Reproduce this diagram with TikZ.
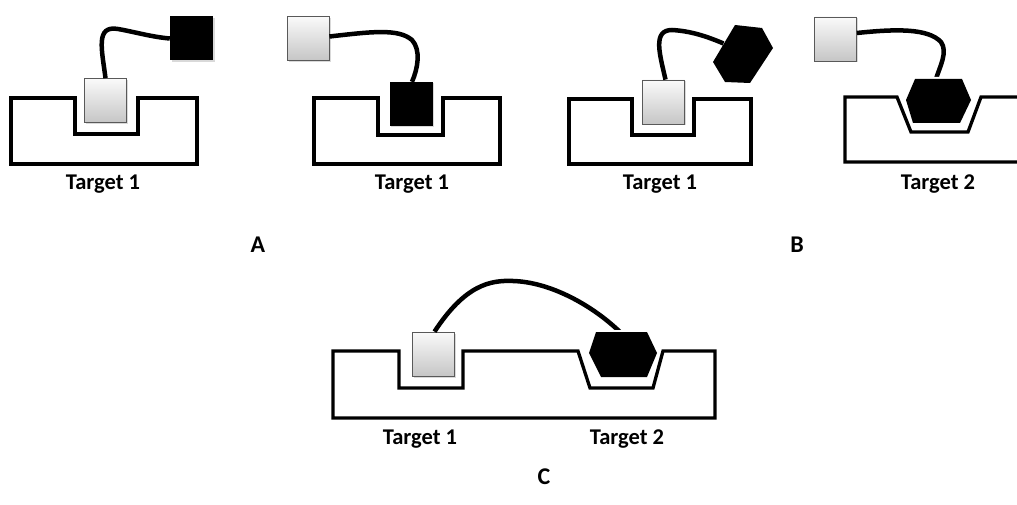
\documentclass[tikz,border=0pt]{standalone}
\usepackage{fontspec}
\setmainfont{Carlito}
\usetikzlibrary{shadows,calc}
\begin{document}
\begin{tikzpicture}[x=1pt,y=-1pt,
  target/.style={draw=black,line width=3.3pt,line join=miter},
  graybox/.style={draw=black!65,line width=0.8pt,top color=gray!4,bottom color=gray!45,
    minimum width=42pt,minimum height=44pt,inner sep=0pt,
    drop shadow={shadow xshift=1.5pt,shadow yshift=-1.5pt,opacity=0.3}},
  blackbox/.style={fill=black,minimum width=43pt,minimum height=44pt,inner sep=0pt,
    drop shadow={shadow xshift=1.5pt,shadow yshift=-1.5pt,opacity=0.3}},
  cable/.style={draw=black,line width=4.5pt,line cap=butt},
  halo/.style={draw=white,line width=4pt,line join=round},
  lbl/.style={font=\fontsize{22.5}{26}\selectfont\bfseries,inner sep=0pt},
  letter/.style={font=\fontsize{24}{28}\selectfont\bfseries,inner sep=0pt}]
\useasboundingbox (0,0) rectangle (1017,505);

% ---------- Panel A, left ----------
\draw[target] (11,98) -- (75,98) -- (75,134) -- (138,134) -- (138,98) -- (197,98) -- (197,164) -- (11,164) -- cycle;
\node[graybox] (g1) at (105.5,100.5) {};
\node[blackbox] (k1) at (191.5,38.5) {};
\draw[cable] (g1.north) .. controls (102,50) and (95,25) .. (118,29) .. controls (135,32) and (152,37) .. (k1.west);
\node[lbl] (t1) at (103,184) {Target 1};

% ---------- Panel A, right ----------
\draw[target] (314,98) -- (378,98) -- (378,135) -- (443,135) -- (443,98) -- (500,98) -- (500,164) -- (314,164) -- cycle;
\node[graybox] (g2) at (308,38.5) {};
\node[blackbox] (k2) at (411,104) {};
\draw[cable] ($(g2.east)+(0,-2)$) .. controls (370,32) and (398,28) .. (412,40) .. controls (421,50) and (418,68) .. ($(k2.north)+(1,0)$);
\node[lbl] (t2) at (412,184) {Target 1};

% ---------- Panel B, left ----------
\draw[target] (569,99) -- (632,99) -- (632,135) -- (694,135) -- (694,99) -- (751,99) -- (751,164) -- (569,164) -- cycle;
\node[graybox] (g3) at (663.5,102) {};
\coordinate (h3a) at (735,25);
\coordinate (h3b) at (762,28);
\coordinate (h3c) at (773,48);
\coordinate (h3d) at (750,83);
\coordinate (h3e) at (725,82);
\coordinate (h3f) at (713,62);
\coordinate (h3in) at (723.5,43.5);
\draw[cable] ($(g3.north)+(2,0)$) .. controls (660,55) and (652,30) .. (672,30) .. controls (690,31) and (706,36) .. (h3in);
\fill[black] (h3a) -- (h3b) -- (h3c) -- (h3d) -- (h3e) -- (h3f) -- cycle;
\node[lbl] (t3) at (660,184) {Target 1};

% ---------- Panel B, right ----------
\draw[target,line cap=butt] (1017,97) -- (981,97) -- (968,132) -- (911,132) -- (897,97) -- (845,97) -- (845,162) -- (1017,162);
\node[graybox] (g4) at (835.5,39) {};
\coordinate (h4a) at (915,79);
\coordinate (h4b) at (962,79);
\coordinate (h4c) at (971,100);
\coordinate (h4d) at (960,123);
\coordinate (h4e) at (913,123);
\coordinate (h4f) at (906,100);
\coordinate (h4in) at (936,79);
\draw[cable] ($(g4.east)+(0,-6)$) .. controls (895,29) and (928,28) .. (941,42) .. controls (948,52) and (940,66) .. (h4in);
\draw[halo] (h4a) -- (h4b) -- (h4c) -- (h4d) -- (h4e) -- (h4f) -- cycle;
\fill[black] (h4a) -- (h4b) -- (h4c) -- (h4d) -- (h4e) -- (h4f) -- cycle;
\node[lbl] (t4) at (938,184) {Target 2};

\node[letter] (A) at (258,245) {A};
\node[letter] (B) at (797,245) {B};

% ---------- Panel C ----------
\draw[target] (333,351) -- (399,351) -- (399,388) -- (463,388) -- (463,351) -- (578,351) -- (590,388) -- (653,388) -- (663,351) -- (715,351) -- (715,418) -- (333,418) -- cycle;
\node[graybox] (gC) at (433.5,354) {};
\coordinate (hCa) at (596,332);
\coordinate (hCb) at (647,332);
\coordinate (hCc) at (657,353);
\coordinate (hCd) at (647,377);
\coordinate (hCe) at (601,377);
\coordinate (hCf) at (589,353);
\coordinate (hCin) at (620,332);
\draw[cable] ($(gC.north)+(1,0)$) .. controls (465,285) and (490,280) .. (513,281) .. controls (550,282) and (592,305) .. (hCin);
\draw[halo] (hCa) -- (hCb) -- (hCc) -- (hCd) -- (hCe) -- (hCf) -- cycle;
\fill[black] (hCa) -- (hCb) -- (hCc) -- (hCd) -- (hCe) -- (hCf) -- cycle;
\node[lbl] (tC1) at (420,439) {Target 1};
\node[lbl] (tC2) at (627,439) {Target 2};
\node[letter] (C) at (544,477) {C};
\end{tikzpicture}
\end{document}
